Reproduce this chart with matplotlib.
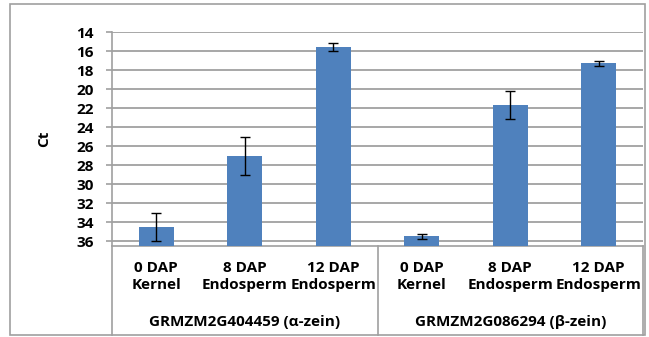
import numpy as np
import matplotlib
matplotlib.use('Agg')
import matplotlib.pyplot as plt
from matplotlib.patches import Rectangle

# data
categories = ['0 DAP\nKernel', '8 DAP\nEndosperm', '12 DAP\nEndosperm',
              '0 DAP\nKernel', '8 DAP\nEndosperm', '12 DAP\nEndosperm']
groups = ['GRMZM2G404459 (\u03b1-zein)', 'GRMZM2G086294 (\u03b2-zein)']
ct_values = [34.5, 27.0, 15.6, 35.5, 21.7, 17.3]
ct_errors = [1.5, 2.0, 0.4, 0.3, 1.45, 0.25]
yticks = list(range(14, 37, 2))

plt.rcParams['font.family'] = ['Open Sans', 'DejaVu Sans']
plt.rcParams['font.weight'] = 'bold'

W, H = 649, 337
fig = plt.figure(figsize=(W / 100, H / 100), dpi=100)

# plot area in pixels
left, right, top, bottom = 112, 643, 32, 246
ax = fig.add_axes([left / W, 1 - bottom / H, (right - left) / W, (bottom - top) / H])

base = 36.5
x = np.arange(len(ct_values))
heights = [base - v for v in ct_values]
ax.bar(x, [-h for h in heights], bottom=base, width=0.4, color='#4F81BD', zorder=3)
ax.errorbar(x, ct_values, yerr=ct_errors, fmt='none', ecolor='black',
            elinewidth=1, capsize=3.5, capthick=1, zorder=4)

ax.set_ylim(base, 14)
ax.set_xlim(-0.5, len(ct_values) - 0.5)
ax.set_yticks(yticks)
ax.set_yticklabels([str(t) for t in yticks], fontsize=11, fontweight='bold')
ax.yaxis.grid(True, color='#A0A0A0', linewidth=1.3, zorder=0)
ax.set_xticks([])
ax.tick_params(axis='y', length=4, width=1.2, color='#A0A0A0', pad=9)
for s in ['top', 'right']:
    ax.spines[s].set_visible(False)
for s in ['left', 'bottom']:
    ax.spines[s].set_color('#A0A0A0')
    ax.spines[s].set_linewidth(1.2)

ax.set_ylabel('Ct', fontsize=11, fontweight='bold', labelpad=18)

# category table below the axis
trans = ax.get_xaxis_transform()
span = bottom - top
table_bottom = -(335 - bottom) / span
for xv in [-0.5, 2.5, 5.5]:
    ax.plot([xv, xv], [0, table_bottom], transform=trans, color='#A0A0A0',
            linewidth=1.2, clip_on=False)

for xi, lab in zip(x, categories):
    ax.text(xi, -(261 - bottom) / span, lab, transform=trans,
            ha='center', va='top', fontsize=11, fontweight='bold',
            linespacing=1.3)
for gi, g in enumerate(groups):
    ax.text(gi * 3 + 1, -(322 - bottom) / span, g, transform=trans,
            ha='center', va='center', fontsize=11, fontweight='bold')

# outer frame
fig.patches.append(Rectangle((10 / W, 1 - 335 / H), (645 - 10) / W, (335 - 4) / H,
                             transform=fig.transFigure, fill=False,
                             edgecolor='#A0A0A0', linewidth=1.2))

fig.savefig('out.png', dpi=100)
